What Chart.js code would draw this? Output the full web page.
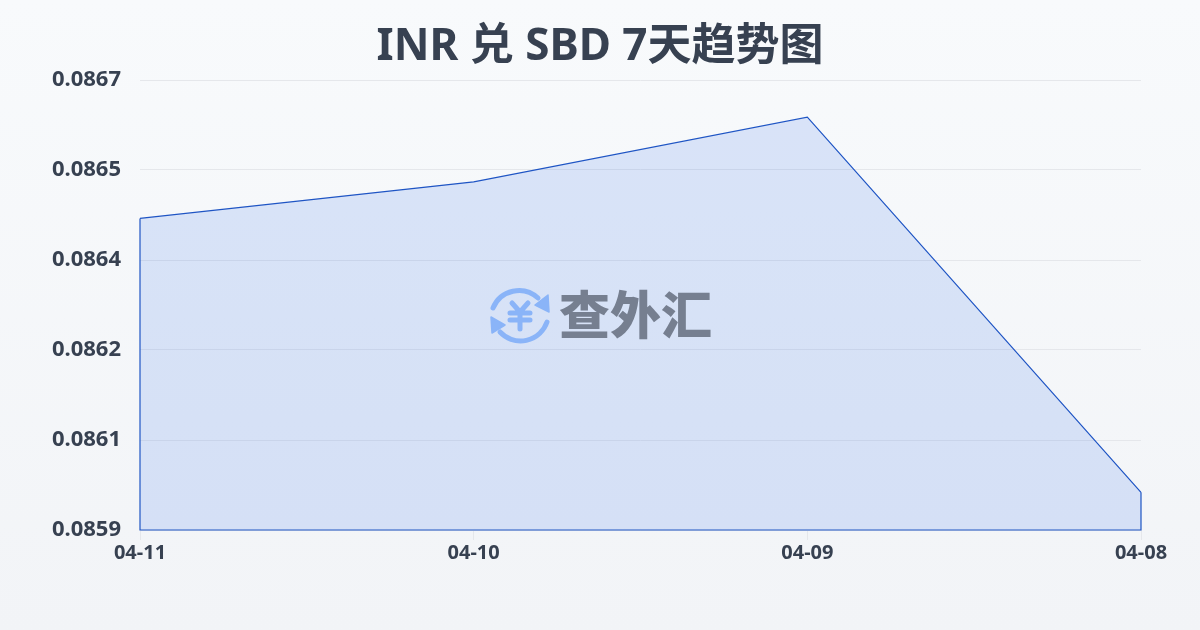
<!DOCTYPE html>
<html lang="zh">
<head>
<meta charset="utf-8">
<title>INR 兑 SBD 7天趋势图</title>
<script src="https://cdn.jsdelivr.net/npm/chart.js@4"></script>
<style>
  html, body { margin: 0; padding: 0; }
  body {
    width: 1200px; height: 630px; overflow: hidden; position: relative;
    background: linear-gradient(180deg, #f8fafc 0%, #f2f4f7 100%);
    font-family: "Noto Sans", "Noto Sans CJK SC", sans-serif;
  }
  #rateChart { position: absolute; left: 0; top: 0; }
  #chartTitle {
    position: absolute; left: 0; top: 13px; width: 1200px; margin: 0;
    text-align: center; color: #374151;
    font: 700 44px/60px "Noto Sans", "Noto Sans CJK SC", sans-serif;
  }
  /* watermark sits above the chart */
  #mark { position: absolute; left: 489px; top: 285px; width: 62px; height: 60px; }
  #markText {
    position: absolute; left: 559px; top: 276px;
    font: 900 51px/72px "Noto Sans CJK SC", sans-serif;
    color: #767f90; white-space: nowrap;
  }
</style>
</head>
<body>
<canvas id="rateChart" width="1200" height="630"></canvas>
<h1 id="chartTitle"></h1>
<svg id="mark" viewBox="0 0 62 60" fill="none" stroke="#8ab4f8" stroke-width="5" stroke-linecap="round" stroke-linejoin="round">
  <path d="M4 23 A28 28 0 0 1 49 13"/>
  <path d="M58 37 A28 28 0 0 1 11 47"/>
  <path d="M59 10 L60 27 L46 20 Z" fill="#8ab4f8" stroke-width="1.5"/>
  <path d="M2 32 L3 48 L16 40 Z" fill="#8ab4f8" stroke-width="1.5"/>
  <path d="M23 18 L31 27 L39 18 M21 28 H41 M21 35 H41 M31 27 V44" stroke-width="5"/>
</svg>
<div id="markText">查外汇</div>

<script>
const titleText = 'INR 兑 SBD 7天趋势图';
const dates = ['04-11', '04-10', '04-09', '04-08'];
const rates = [0.086454, 0.086519, 0.086634, 0.085967];
const yMin = 0.0859;
const yMax = 0.0867;
const yStep = 0.00016;

const INK = '#374151';
const BLUE = '#1f55c4';

document.getElementById('chartTitle').textContent = titleText;

// Line only strokes the top, the reference also outlines the sides and base
const closeOutline = {
  id: 'closeOutline',
  afterDatasetsDraw(chart) {
    const pts = chart.getDatasetMeta(0).data;
    const base = chart.scales.y.getPixelForValue(yMin);
    const first = pts[0], last = pts[pts.length - 1];
    const ctx = chart.ctx;
    ctx.save();
    ctx.strokeStyle = BLUE;
    ctx.lineWidth = 1.2;
    ctx.beginPath();
    ctx.moveTo(first.x, first.y);
    ctx.lineTo(first.x, base);
    ctx.lineTo(last.x, base);
    ctx.lineTo(last.x, last.y);
    ctx.stroke();
    ctx.restore();
  }
};

new Chart(document.getElementById('rateChart'), {
  type: 'line',
  data: {
    labels: dates,
    datasets: [{
      data: rates,
      borderColor: BLUE,
      borderWidth: 1.2,
      backgroundColor: 'rgba(37,99,235,0.14)',
      fill: 'start',
      tension: 0,
      pointRadius: 0,
    }]
  },
  options: {
    responsive: false,
    animation: false,
    layout: { padding: { right: 59, top: 80, bottom: 0 } },
    plugins: {
      legend: { display: false },
      tooltip: { enabled: false },
    },
    scales: {
      x: {
        offset: false,
        border: { display: false },
        grid: { drawOnChartArea: false, drawTicks: true, tickLength: 10, color: '#e5e7eb' },
        ticks: {
          color: INK, maxRotation: 0, padding: 1, autoSkip: false,
          font: { family: '"Noto Sans", sans-serif', size: 20, weight: '700' },
        },
        afterFit(s) { s.height = 100; },
      },
      y: {
        min: yMin,
        max: yMax,
        border: { display: false },
        grid: { color: '#e5e7eb', drawTicks: false, lineWidth: 1 },
        ticks: {
          stepSize: yStep,
          color: INK,
          padding: 19,
          font: { family: '"Noto Sans", sans-serif', size: 22, weight: '700' },
          callback: v => v.toFixed(4),
        },
        afterFit(s) { s.width = 140; },
      },
    },
  },
  plugins: [closeOutline],
});
</script>
</body>
</html>
